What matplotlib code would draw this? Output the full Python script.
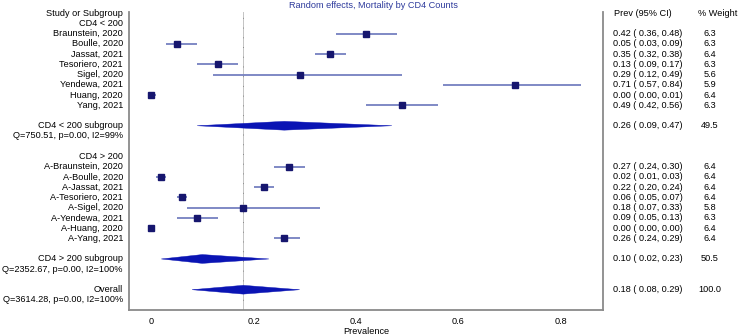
import matplotlib
matplotlib.use('Agg')
import matplotlib.pyplot as plt
import matplotlib.transforms as mtransforms
from matplotlib.patches import Polygon

plt.rcParams['font.family'] = ['Liberation Sans', 'DejaVu Sans']

## Dados dos estudos (prevalencia, IC inferior, IC superior, peso)
estudos_1 = ['Braunstein, 2020', 'Boulle, 2020', 'Jassat, 2021', 'Tesoriero, 2021',
             'Sigel, 2020', 'Yendewa, 2021', 'Huang, 2020', 'Yang, 2021']
prev_1 = [0.42, 0.05, 0.35, 0.13, 0.29, 0.71, 0.00, 0.49]
inf_1 = [0.36, 0.03, 0.32, 0.09, 0.12, 0.57, 0.00, 0.42]
sup_1 = [0.48, 0.09, 0.38, 0.17, 0.49, 0.84, 0.01, 0.56]
peso_1 = [6.3, 6.3, 6.4, 6.3, 5.6, 5.9, 6.4, 6.3]

estudos_2 = ['A-Braunstein, 2020', 'A-Boulle, 2020', 'A-Jassat, 2021', 'A-Tesoriero, 2021',
             'A-Sigel, 2020', 'A-Yendewa, 2021', 'A-Huang, 2020', 'A-Yang, 2021']
prev_2 = [0.27, 0.02, 0.22, 0.06, 0.18, 0.09, 0.00, 0.26]
inf_2 = [0.24, 0.01, 0.20, 0.05, 0.07, 0.05, 0.00, 0.24]
sup_2 = [0.30, 0.03, 0.24, 0.07, 0.33, 0.13, 0.00, 0.29]
peso_2 = [6.4, 6.4, 6.4, 6.4, 5.8, 6.3, 6.4, 6.4]

## Resumos (subgrupos e geral)
resumo_nomes = ['CD4 < 200 subgroup', 'CD4 > 200 subgroup', 'Overall']
resumo_q = ['Q=750.51, p=0.00, I2=99%', 'Q=2352.67, p=0.00, I2=100%', 'Q=3614.28, p=0.00, I2=100%']
resumo_prev = [0.26, 0.10, 0.18]
resumo_inf = [0.09, 0.02, 0.08]
resumo_sup = [0.47, 0.23, 0.29]
resumo_peso = [49.5, 50.5, 100.0]

grupos = ['CD4 < 200', 'CD4 > 200']
xticks = [0, 0.2, 0.4, 0.6, 0.8]

fig = plt.figure(figsize=(7.39, 3.35), dpi=100)
ax = fig.add_axes([129 / 739, 1 - 310 / 335, (603 - 129) / 739, (310 - 12) / 335])

fs = 6.6
cor_linha = '#7580c0'
cor_quad = '#16166e'
cor_diam = '#0a14b4'

trans = mtransforms.blended_transform_factory(fig.transFigure, ax.transData)
x_rot = 123 / 739
x_prev = 613 / 739
x_peso = 710 / 739


def linha_texto(y, rotulo, e=None, l=None, h=None, w=None):
    ax.text(x_rot, y, rotulo, transform=trans, ha='right', va='center', fontsize=fs, clip_on=False)
    if e is not None:
        ax.text(x_prev, y, f'{e:.2f} ( {l:.2f}, {h:.2f})', transform=trans,
                ha='left', va='center', fontsize=fs, clip_on=False)
        ax.text(x_peso, y, f'{w:.1f}', transform=trans,
                ha='center', va='center', fontsize=fs, clip_on=False)


def diamante(y, e, l, h, meia=0.43):
    ax.add_patch(Polygon([(l, y), (e, y - meia), (h, y), (e, y + meia)],
                         closed=True, facecolor=cor_diam, edgecolor=cor_diam, lw=0.3, zorder=3))


## Cabecalho
linha_texto(0, 'Study or Subgroup')
ax.text(614 / 739, 0, 'Prev (95% CI)', transform=trans, ha='left', va='center', fontsize=fs)
ax.text(698 / 739, 0, '% Weight', transform=trans, ha='left', va='center', fontsize=fs)

## Grupos
blocos = [(estudos_1, prev_1, inf_1, sup_1, peso_1), (estudos_2, prev_2, inf_2, sup_2, peso_2)]
inicio = [1, 14]
for g, (nomes, pv, li, ls, pw) in enumerate(blocos):
    y0 = inicio[g]
    linha_texto(y0, grupos[g])
    for i in range(len(nomes)):
        y = y0 + 1 + i
        ax.plot([li[i], ls[i]], [y, y], color=cor_linha, lw=1.3, solid_capstyle='butt', zorder=2)
        ax.plot(pv[i], y, marker='s', color=cor_quad, markersize=3.8, zorder=3)
        linha_texto(y, nomes[i], pv[i], li[i], ls[i], pw[i])
    ys = y0 + 10
    linha_texto(ys, resumo_nomes[g], resumo_prev[g], resumo_inf[g], resumo_sup[g], resumo_peso[g])
    linha_texto(ys + 1, resumo_q[g])
    diamante(ys, resumo_prev[g], resumo_inf[g], resumo_sup[g])

## Geral
linha_texto(27, resumo_nomes[2], resumo_prev[2], resumo_inf[2], resumo_sup[2], resumo_peso[2])
linha_texto(28, resumo_q[2])
diamante(27, resumo_prev[2], resumo_inf[2], resumo_sup[2])

## Linha vertical do efeito geral
ax.axvline(resumo_prev[2], color='#c4c4c4', lw=0.7, zorder=1)
ax.axvline(resumo_prev[2], color='#8a8a8a', lw=0.7, linestyle=(0, (1, 9)), zorder=1)

ax.set_xlim(-0.043, 0.882)
ax.set_ylim(28.98, -0.1)
ax.set_yticks([])
ax.set_xticks(xticks)
ax.set_xticklabels(['0', '0.2', '0.4', '0.6', '0.8'], fontsize=fs)
ax.tick_params(axis='x', length=0, pad=5)
ax.set_xlabel('Prevalence', fontsize=fs, labelpad=1)
for lado in ['left', 'bottom', 'right']:
    ax.spines[lado].set_color('#8a8a8a')
    ax.spines[lado].set_linewidth(1.3)
ax.spines['top'].set_visible(False)

fig.text(373 / 739, 1 - 5 / 335, 'Random effects, Mortality by CD4 Counts',
         ha='center', va='center', fontsize=fs, color='#2d3a9c')

fig.savefig('out.png', dpi=100)
